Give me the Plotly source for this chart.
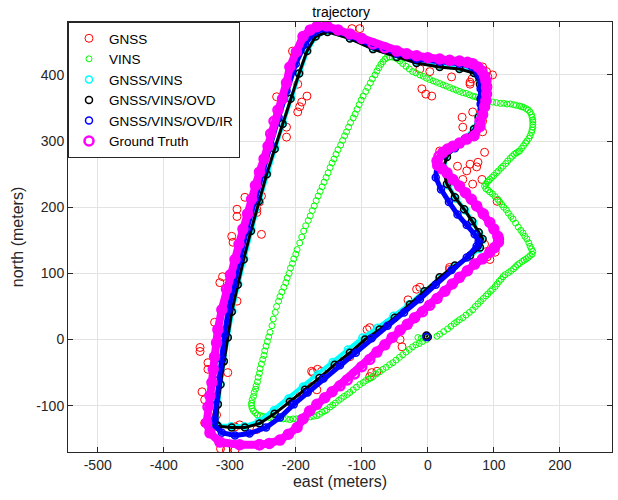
import plotly.graph_objects as go

# ---------------- data (east, north in meters) ----------------
gnss_e = [83, 89, 91, 91, 64, 67, 64, -12, 3, 36, -9, -3, 6, 68, 83, 52, 53, 83, 86, 64, 76, 74, 59, 53,
          68, 82, 45, 18, 105, 109, 102, 94, 33, 86, 33, -17, -12, -42, -39, -92, -88, -118, -133, -85,
          -77, -88, -174, -167, -161, -176, -176, -168, -191, -183, -205, -194, -259, -285, -292, -318,
          -338, -320, -338, -342, -303, -333, -333, -345, -345, -305, -323, -289, -315, -311, -297, -295,
          -252, -289, -289, -277, -259, -259, -255, -252, -255, -214, -214, -229, -197, -194, -191, -183,
          -197, -205, -202, -115, -103, -305, -292, -314, -60, -30, 20, 98, 90]
gnss_n = [412, 405, 397, 383, 389, 394, 386, 409, 405, 397, 379, 371, 368, 344, 330, 336, 321, 314, 283,
          265, 268, 261, 255, 242, 235, 242, 262, 285, 209, 152, 132, 121, 106, 144, 109, 76, 79, 0, -11,
          15, 18, -26, -33, -50, -48, -56, -50, -45, -48, -48, -71, -76, -79, -79, -94, -80, -136, -129,
          -132, -132, -126, -114, -91, -79, -50, -45, -35, -18, -12, 15, 26, 58, 86, 95, 156, 147, 159,
          197, 186, 215, 192, 197, 208, 217, 223, 321, 306, 367, 344, 352, 359, 368, 386, 436, 429, 470,
          470, -167, -167, -165, 25, 60, 270, 400, 125]

vins_e = [14, 18, 24, 30, 35, 40, 44, 48, 53, 58, 63, 68, 72, 76, 80, 84, 88, 91, 95, 98,
          102, 105, 108, 111, 114, 117, 122, 126, 130, 133, 136, 139, 143, 146, 149, 152, 155, 158,
          159, 157, 155, 153, 150, 147, 144, 141, 137, 133, 129, 126, 122, 119, 115, 112, 109, 106,
          102, 98, 94, 91, 88, 86,
          88, 90, 92, 94, 97, 100, 104, 107, 111, 114, 118, 121, 125, 128, 131, 134, 137, 139, 142,
          145, 148, 150, 153, 155, 157, 158, 159, 159, 159, 159, 158, 157, 155, 152, 149, 145, 142, 139,
          134, 130, 125, 120, 115, 110, 104, 98, 92, 86, 81, 76, 72, 68, 63, 58, 53, 48, 43, 38,
          33, 28, 23, 18, 13, 8, 3, -2, -7, -12, -18, -23, -28, -33, -38, -42, -46, -50, -54, -58,
          -62, -65, -68, -71, -74, -77, -80, -84, -87, -91, -94, -98, -101, -104, -107, -110, -113,
          -117, -120, -123, -126, -129, -132, -136, -139, -142, -145, -148, -151, -154, -157, -160,
          -163, -166, -169, -172, -175, -178, -181, -185, -188, -191, -194, -198, -200, -203, -205,
          -208, -210, -213, -215, -218, -221, -224, -226, -229, -231, -234, -236, -239, -241, -243,
          -245, -247, -248, -250, -252, -254, -255, -257, -258, -260, -261, -263, -264, -266, -267,
          -267, -266, -264, -261, -258, -254, -250, -245, -240, -235, -229, -224, -219, -214, -209,
          -204, -199, -194, -189, -183, -178, -173, -168, -164, -160, -156, -153, -148, -144, -140,
          -135, -131, -127, -122, -118, -113, -108, -103, -98, -94, -90, -86, -83, -78, -73, -68,
          -63, -58, -53, -48, -43, -38, -33, -28, -23, -18, -13, -8, -2, -15, -10, -5]
vins_n = [5, 8, 12, 16, 20, 24, 27, 30, 33, 37, 41, 45, 50, 54, 58, 62, 66, 69, 73, 76,
          80, 84, 88, 91, 95, 98, 101, 104, 107, 110, 113, 115, 118, 120, 122, 124, 127, 129,
          133, 137, 141, 146, 152, 156, 161, 165, 170, 176, 182, 186, 191, 196, 200, 204, 208, 212,
          216, 220, 223, 226, 228, 232,
          235, 238, 240, 242, 245, 248, 252, 255, 259, 262, 266, 270, 274, 277, 280, 282, 284, 285, 289,
          293, 297, 300, 304, 308, 313, 317, 321, 325, 329, 332, 336, 340, 344, 347, 349, 351, 352, 353,
          354, 355, 356, 356, 357, 357, 358, 359, 361, 363, 365, 366, 367, 368, 370, 372, 373, 375, 377, 379,
          381, 383, 385, 387, 389, 391, 393, 395, 398, 400, 403, 405, 409, 413, 417, 421, 424, 426, 427, 427,
          426, 424, 420, 416, 411, 406, 400, 394, 388, 381, 375, 368, 362, 355, 348, 341, 335,
          328, 321, 314, 308, 301, 294, 287, 280, 273, 267, 260, 252, 245, 238, 231,
          224, 217, 210, 202, 195, 187, 180, 172, 164, 155, 146, 136, 129, 122, 115,
          108, 100, 93, 86, 79, 72, 65, 58, 50, 41, 31, 21, 11, 4, -3,
          -10, -17, -24, -30, -37, -44, -51, -57, -64, -70, -75, -80, -86, -91, -96,
          -100, -104, -108, -111, -114, -115, -116, -117, -118, -118, -119, -119, -120, -120, -121,
          -120, -120, -119, -118, -118, -117, -116, -115, -113, -110, -108, -106, -102, -99, -96,
          -92, -89, -86, -83, -80, -76, -72, -68, -65, -62, -60, -58, -56, -52, -49, -45,
          -42, -38, -35, -31, -27, -23, -19, -15, -11, -8, -6, -3, 0, 3, 2, 3]

gv_e = [-321, -318, -314, -309, -303, -296, -287, -278, -267, -255, -243, -231, -219, -207, -194, -182,
        -169, -152, -118, -83, -47, -17, 18, 48, 70, 79, 80, 77, 70, 56, 41, 29, 24, 31, 43, 57, 69,
        78, 82, 78, 63, 40, 17, -7, -29, -52, -76, -99, -121, -144, -167, -189, -211, -233, -256, -278,
        -298, -318, None, -2]
gv_n = [-128, -97, -67, -32, 4, 43, 84, 122, 165, 210, 251, 289, 327, 365, 403, 437,
        459, 466, 456, 440, 428, 419, 413, 410, 404, 387, 365, 337, 319, 304, 292, 277, 257, 233, 213,
        195, 177, 160, 150, 137, 125, 110, 92, 72, 53, 36, 18, 3, -15, -34, -53, -71, -89, -107, -124,
        -131, -131, -130, None, 5]

gvo_e = [-320, -318, -314, -309, -303, -297, -288, -279, -268, -256, -244, -232, -220, -208, -195, -183,
         -170, -152, -118, -83, -47, -17, 18, 48, 70, 79, 80, 77, 70, 56, 41, 29, 23, 29, 41, 55, 67,
         77, 83, 79, 64, 41, 18, -5, -27, -50, -73, -95, -118, -141, -164, -186, -209, -232, -255, -277,
         -297, -318, None, -2, 0]
gvo_n = [-129, -98, -68, -33, 3, 42, 83, 121, 164, 209, 250, 288, 326, 364, 402, 436,
         458, 465, 455, 439, 427, 418, 412, 409, 403, 386, 364, 336, 318, 303, 291, 276, 258, 235, 215,
         197, 179, 162, 152, 139, 127, 112, 94, 73, 53, 33, 15, 0, -20, -38, -58, -76, -94, -112, -127,
         -133, -133, -131, None, 6, 4]

gvoi_e = [-324, -323, -321, -317, -312, -308, -302, -294, -285, -274, -262, -250, -238, -226, -214,
          -200, -186, -171, -153, -118, -83, -47, -17, 18, 48, 67, 77, 80, 80, 79, 73, 58, 41, 23, 14,
          12, 20, 32, 45, 59, 71, 77, 74, 59, 36, 12, -12, -36, -61, -85, -109, -133, -158, -182, -203,
          -224, -245, -270, -292, -312, -324, None, -2]
gvoi_n = [-129, -121, -91, -61, -30, 8, 45, 83, 121, 167, 212, 255, 295, 336, 376,
          417, 447, 465, 470, 459, 444, 432, 424, 420, 417, 412, 400, 379, 356, 333, 314, 302, 289, 279, 265,
          245, 227, 208, 189, 173, 159, 148, 141, 124, 105, 83, 61, 41, 21, 2, -20, -39, -59, -80, -98,
          -118, -133, -142, -145, -141, -129, None, 4]

gt_e = [-255, -285, -315, -330, -335, -333, -330, -327, -325, -323, -320, -318, -312, -305, -299, -292,
        -286, -280, -273, -267, -261, -255, -248, -242, -238, -233, -227, -220, -214, -209, -199, -189,
        -178, -168, -153, -136, -118, -100, -83, -65, -47, -32, -17, 0, 18, 33, 48, 60, 68, 76, 82, 86,
        88, 89, 89, 88, 86, 83, 79, 79, 70, 59, 48, 38, 30, 23, 17, 14, 15, 22, 29, 38, 48, 57, 66, 74,
        84, 94, 100, 106, 107, 101, 94, 83, 71, 60, 48, 37, 26, 14, 3, -8, -20, -31, -42, -54, -65, -77,
        -88, -100, -111, -122, -133, -145, -156, -168, -179, -189, -198, -211, -224, -240, -255]
gt_n = [-159, -159, -155, -141, -126, -102, -85, -65, -45, -26, -5, 15, 45, 76, 98, 121,
        144, 167, 190, 212, 233, 253, 273, 292, 311, 330, 347, 364, 388, 412, 435, 458,
        468, 473, 474, 468, 462, 455, 447, 441, 436, 432, 429, 426, 424, 422, 421, 419, 417, 412, 406, 398,
        391, 381, 371, 361, 352, 340, 330, 322, 308, 303, 297, 292, 288, 283, 277, 270, 263, 258, 252, 242,
        232, 222, 212, 202, 190, 177, 167, 156, 147, 139, 132, 122, 114, 104, 94, 84, 73, 62, 52, 42, 33, 23,
        14, 3, -8, -19, -30, -41, -52, -61, -70, -79, -88, -98, -108, -120, -133, -143, -152, -157, -159]

x_ticks = [-500, -400, -300, -200, -100, 0, 100, 200]
y_ticks = [-100, 0, 100, 200, 300, 400]

# ---------------- figure ----------------
fig = go.Figure()

def rings(x, y, name, color, size, width, show=True):
    fig.add_trace(go.Scatter(x=x, y=y, mode="markers", name=name, showlegend=show,
                             marker=dict(symbol="circle-open", size=size, color=color,
                                         line=dict(width=width, color=color))))

def band(x, y, color, width):
    fig.add_trace(go.Scatter(x=x, y=y, mode="lines", showlegend=False, hoverinfo="skip",
                             connectgaps=False, line=dict(color=color, width=width)))

rings(gnss_e, gnss_n, "GNSS", "#ff0000", 8, 1)
rings(vins_e, vins_n, "VINS", "#00ff00", 6, 1)
band(gv_e, gv_n, "#00ffff", 4)
rings(gv_e, gv_n, "GNSS/VINS", "#00ffff", 7, 1.5)
band(gvo_e, gvo_n, "#000000", 3)
rings(gvo_e, gvo_n, "GNSS/VINS/OVD", "#000000", 7, 1.5)
band(gvoi_e, gvoi_n, "#0000ff", 5)
rings(gvoi_e, gvoi_n, "GNSS/VINS/OVD/IR", "#0000ff", 7, 1.5)
band(gt_e, gt_n, "#ff00ff", 8)
rings(gt_e, gt_n, "Ground Truth", "#ff00ff", 9, 2.5)

axcol = "#262626"
fig.update_layout(
    width=618, height=500,
    margin=dict(l=68, r=6, t=22, b=48),
    paper_bgcolor="white", plot_bgcolor="white",
    font=dict(family="Liberation Sans, Arial, sans-serif", color=axcol, size=14),
    title=dict(text="trajectory", x=0.552, xanchor="center", y=0.976, yanchor="middle",
               pad=dict(t=0, b=0), font=dict(size=14, color="#000000")),
    xaxis=dict(range=[-545, 279], tickvals=x_ticks, ticktext=[str(v) for v in x_ticks],
               showgrid=True, gridcolor="#e3e3e3", zeroline=False, showline=True,
               linecolor=axcol, linewidth=1, mirror="ticks", ticks="inside", ticklen=5,
               tickcolor=axcol, title=dict(text="east (meters)", font=dict(size=16), standoff=3)),
    yaxis=dict(range=[-170, 480], tickvals=y_ticks, ticktext=[str(v) for v in y_ticks],
               showgrid=True, gridcolor="#e3e3e3", zeroline=False, showline=True,
               linecolor=axcol, linewidth=1, mirror="ticks", ticks="inside", ticklen=5,
               tickcolor=axcol, title=dict(text="north (meters)", font=dict(size=16), standoff=8)),
    legend=dict(x=0, y=1, xanchor="left", yanchor="top", bgcolor="white",
                bordercolor=axcol, borderwidth=1, font=dict(size=13.5, color="#000000"),
                tracegroupgap=0, itemsizing="trace"),
    showlegend=True,
)

fig.write_html("out.html", config={"displayModeBar": False},
               post_script="document.body.style.margin='0px';")
